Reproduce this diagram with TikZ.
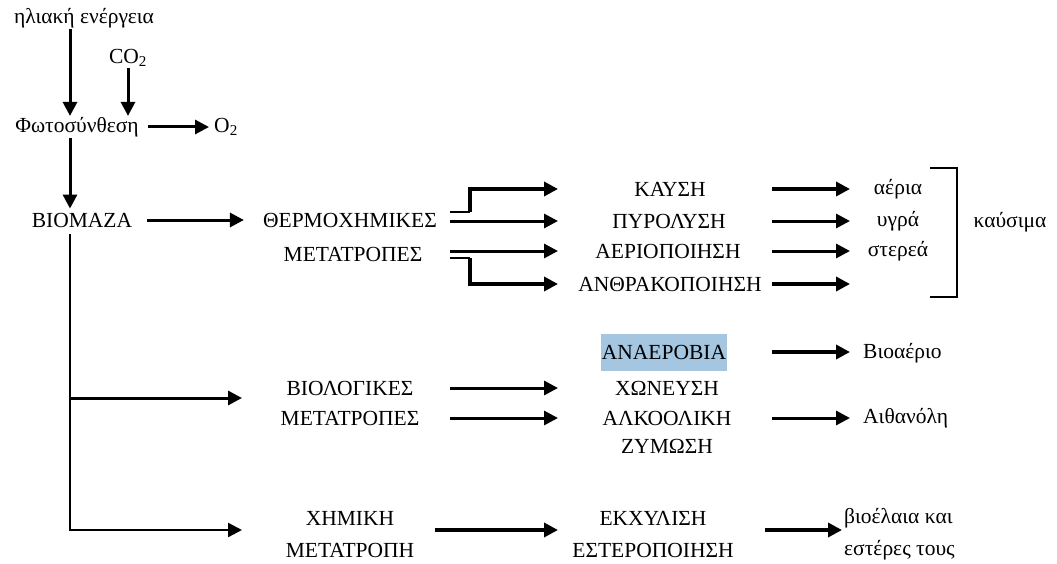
\documentclass[tikz,border=0pt]{standalone}
\usepackage{fontspec}
\setmainfont{Liberation Serif}
\usetikzlibrary{arrows.meta}
\definecolor{hl}{RGB}{164,198,224}
\begin{document}
\begin{tikzpicture}[x=1pt,y=-1pt,
  lbl/.style={inner sep=1pt, font=\fontsize{21.5}{24}\selectfont, text=black},
  arr/.style={line width=3pt, -{Triangle[length=14pt,width=14pt]}},
  thickarr/.style={line width=4.4pt, -{Triangle[length=14pt,width=14pt]}},
  ln/.style={line width=2.2pt},
  brk/.style={line width=1.6pt},
]
\useasboundingbox (0,0) rectangle (1057,564);
% column / row helper coordinates
\coordinate (b0) at (70,0);
\coordinate (c0) at (242,0);
\coordinate (c1) at (450,0);
\coordinate (c2) at (470,0);
\coordinate (c3) at (558,0);
\coordinate (c4) at (772,0);
\coordinate (c5) at (850,0);
\coordinate (c6) at (435,0);
\coordinate (c7) at (765,0);
\coordinate (c8) at (842,0);
\coordinate (r2) at (0,398);
\coordinate (r3) at (0,530);

% nodes
\node[lbl] (sun) at (84,18) {ηλιακή ενέργεια};
\node[lbl] (co2) at (128,58) {CO\textsubscript{2}};
\node[lbl] (photo) at (77,127) {Φωτοσύνθεση};
\node[lbl] (o2) at (226,127) {O\textsubscript{2}};
\node[lbl] (bio) at (82,220) {ΒΙΟΜΑΖΑ};
\node[lbl] (therm) at (350,220) {ΘΕΡΜΟΧΗΜΙΚΕΣ};
\node[lbl] (therm2) at (353,254) {ΜΕΤΑΤΡΟΠΕΣ};
\node[lbl] (kaysi) at (670,189) {ΚΑΥΣΗ};
\node[lbl] (pyro) at (669,221) {ΠΥΡΟΛΥΣΗ};
\node[lbl] (aerio) at (668,251) {ΑΕΡΙΟΠΟΙΗΣΗ};
\node[lbl] (anthr) at (670,284) {ΑΝΘΡΑΚΟΠΟΙΗΣΗ};
\node[lbl] (aeria) at (898,189) {αέρια};
\node[lbl] (ygra) at (898,221) {υγρά};
\node[lbl] (sterea) at (898,251) {στερεά};
\node[lbl] (kausima) at (1010,222) {καύσιμα};
\node[lbl, fill=hl, minimum height=37pt, inner xsep=1pt] (anaer) at (664,352) {ΑΝΑΕΡΟΒΙΑ};
\node[lbl] (xon) at (667,388) {ΧΩΝΕΥΣΗ};
\node[lbl] (alko) at (667,418) {ΑΛΚΟΟΛΙΚΗ};
\node[lbl] (zym) at (667,446) {ΖΥΜΩΣΗ};
\node[lbl] (biol) at (350,388) {ΒΙΟΛΟΓΙΚΕΣ};
\node[lbl] (biol2) at (350,418) {ΜΕΤΑΤΡΟΠΕΣ};
\node[lbl, anchor=west] (bioaer) at (862,353) {Βιοαέριο};
\node[lbl, anchor=west] (ethan) at (862,418) {Αιθανόλη};
\node[lbl] (xim) at (350,518) {ΧΗΜΙΚΗ};
\node[lbl] (xim2) at (350,550) {ΜΕΤΑΤΡΟΠΗ};
\node[lbl] (ekx) at (653,518) {ΕΚΧΥΛΙΣΗ};
\node[lbl] (ester) at (653,550) {ΕΣΤΕΡΟΠΟΙΗΣΗ};
\node[lbl, anchor=west] (bioel) at (843,518) {βιοέλαια και};
\node[lbl, anchor=west] (bioel2) at (843,550) {εστέρες τους};

% connectors
\draw[arr] (sun.south -| b0) -- (photo.north -| b0);
\draw[arr] (co2.south) -- (co2.south |- photo.north);
\draw[arr] ([xshift=8pt]photo.east) -- ([xshift=-4pt]o2.west);
\draw[arr] (photo.south -| b0) -- ([yshift=3pt]bio.north -| b0);
\draw[arr] ([xshift=14pt]bio.east) -- ([xshift=-18pt]therm.west);

\draw[ln] ([yshift=8pt]therm.east -| c1) -- ([yshift=8pt]therm.east -| c2);
\draw[thickarr] ([yshift=8pt]therm.east -| c2) -- (c2 |- kaysi) -- (kaysi -| c3);
\draw[arr] (pyro -| c1) -- (pyro -| c3);
\draw[arr] (aerio -| c1) -- (aerio -| c3);
\draw[ln] ([yshift=-7pt]aerio -| c1) -- ([yshift=-7pt]aerio -| c2);
\draw[thickarr] ([yshift=-7pt]aerio -| c2) -- (c2 |- anthr) -- (anthr -| c3);

\draw[thickarr] (kaysi -| c4) -- (aeria -| c5);
\draw[arr] (pyro -| c4) -- (ygra -| c5);
\draw[arr] (aerio -| c4) -- (sterea -| c5);
\draw[thickarr] (anthr -| c4) -- (anthr -| c5);

\draw[brk] (930,168) -- (957,168) -- (957,297) -- (930,297);

\draw[arr, line width=2.4pt] ([yshift=-6pt]bio.south -| b0) |- (r3 -| c0);
\draw[arr] (r2 -| b0) -- (r2 -| c0);

\draw[arr] (biol -| c1) -- (xon -| c3);
\draw[arr] (biol2 -| c1) -- (alko -| c3);
\draw[thickarr] (anaer -| c4) -- (anaer -| c5);
\draw[arr] (ethan -| c4) -- (ethan -| c5);

\draw[thickarr] (r3 -| c6) -- (r3 -| c3);
\draw[thickarr] (r3 -| c7) -- (r3 -| c8);
\end{tikzpicture}
\end{document}
